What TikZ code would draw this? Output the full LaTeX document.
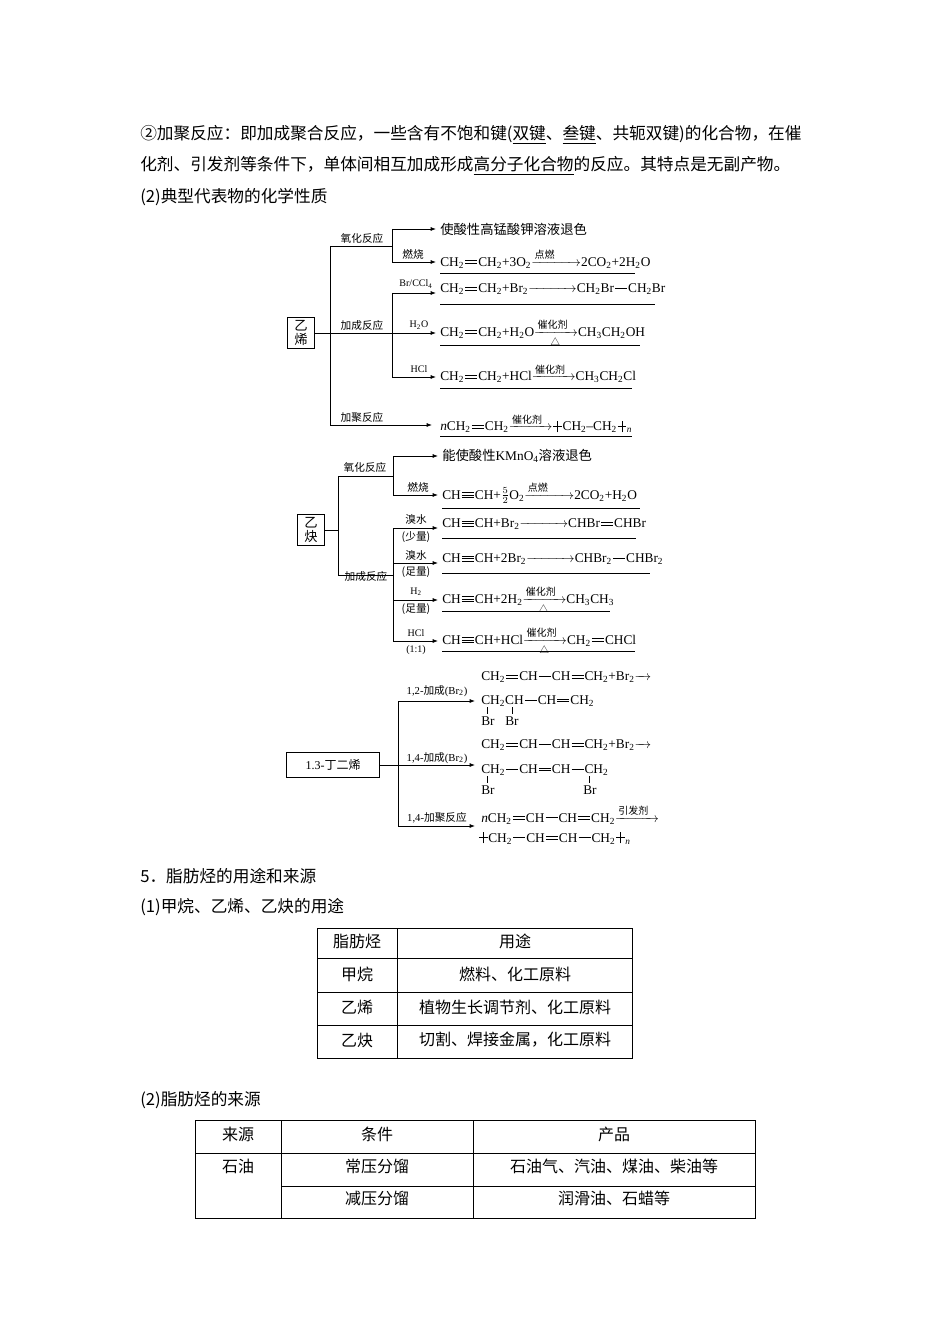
\documentclass[tikz,border=0pt]{standalone}
\usepackage{amsmath}
\usepackage{fontspec}
\setmainfont{Noto Sans CJK SC}
\newfontfamily\cjk{Noto Sans CJK SC}
\newfontfamily\lat{Liberation Serif}
\usetikzlibrary{arrows.meta}
\newcommand\db{\kern.08em\rlap{\rule[.18em]{.9em}{.05em}}\rule[.38em]{.9em}{.05em}\kern.08em}
\newcommand\tb{\kern.08em\rlap{\rule[.12em]{.9em}{.05em}}\rlap{\rule[.28em]{.9em}{.05em}}\rule[.44em]{.9em}{.05em}\kern.08em}
\newcommand\sbd{\kern.08em\rule[.3em]{.9em}{.05em}\kern.08em}
\newcommand\pb{\kern.05em\rule[.3em]{.3em}{.05em}\rule[-.1em]{.05em}{.85em}\rule[.3em]{.3em}{.05em}\kern.05em}
\newcommand\s[1]{\textsubscript{#1}}
\newcommand\ra[3][]{$\xrightarrow[\text{\cjk\fontsize{7}{7}\selectfont #1}]{\text{\cjk\fontsize{7.5}{8}\selectfont #2}\hspace{#3}}$}
\begin{document}
\begin{tikzpicture}[x=0.75pt,y=-0.75pt,
 body/.style={font=\fontsize{12.5}{14}\selectfont, anchor=west, inner sep=0},
 lbl/.style={font=\fontsize{8}{9}\selectfont, inner sep=0},
 eq/.style={font=\fontsize{10}{12}\selectfont\lat, anchor=west, inner sep=0},
 ln/.style={line width=0.6pt},
 arr/.style={line width=0.6pt,-{Latex[length=4pt,width=3pt]}},
 ul/.style={line width=0.5pt},
 bx/.style={draw,line width=0.7pt,font=\fontsize{10}{11}\selectfont,inner sep=2pt, align=center},
 tc/.style={font=\fontsize{12}{14}\selectfont, inner sep=0}]
\useasboundingbox (0,0) rectangle (950,1344);
% top text
\node[body] (t1) at (140,135) {②加聚反应：即加成聚合反应，一些含有不饱和键(\underline{双键}、\underline{叁键}、共轭双键)的化合物，在催};
\node[body] (t2) at (140,166) {化剂、引发剂等条件下，单体间相互加成形成\underline{高分子化合物}的反应。其特点是无副产物。};
\node[body] (t3) at (140,197) {(2)典型代表物的化学性质};
% ===== ethylene =====
\node[bx,minimum width=20pt] (e0) at (301,333) {乙\\烯};
\draw[ln] (e0.east) -- (392,333);
\draw[ln] (330,246) -- (330,425);
\draw[ln] (330,246) -- (392,246);
\draw[ln] (392,229) -- (392,262);
\draw[arr] (392,229) -- (436,229);
\draw[arr] (392,262) -- (436,262);
\node[lbl] (el1) at (362,238) {氧化反应};
\node[lbl] (el2) at (413,254) {燃烧};
\node[eq,font=\fontsize{10}{12}\selectfont] (ee1) at (440,229) {使酸性高锰酸钾溶液退色};
\node[eq] (ee2) at (440,262) {CH\s2\db CH\s2+3O\s2\ra{点燃}{16pt}2CO\s2+2H\s2O};
\draw[ul] (440,273) -- (635,273);
\draw[ln] (392,293) -- (392,377);
\draw[arr] (392,293) -- (436,293);
\draw[arr] (392,333) -- (436,333);
\draw[arr] (392,377) -- (436,377);
\node[lbl] (el3) at (362,325) {加成反应};
\node[lbl,font=\fontsize{7.5}{8}\selectfont\lat] (el4) at (416,284) {Br/CCl\s4};
\node[lbl,font=\fontsize{7.5}{8}\selectfont\lat] (el5) at (419,325) {H\s2O};
\node[lbl,font=\fontsize{7.5}{8}\selectfont\lat] (el6) at (419,369) {HCl};
\node[eq] (ee3) at (440,293) {CH\s2\db CH\s2+Br\s2\ra{}{30pt}CH\s2Br\sbd CH\s2Br};
\draw[ul] (440,304) -- (655,304);
\node[eq] (ee4) at (440,333) {CH\s2\db CH\s2+H\s2O\ra[△]{催化剂}{4pt}CH\s3CH\s2OH};
\draw[ul] (440,345) -- (640,345);
\node[eq] (ee5) at (440,377) {CH\s2\db CH\s2+HCl\ra{催化剂}{4pt}CH\s3CH\s2Cl};
\draw[ul] (440,388) -- (632,388);
\draw[arr] (330,425) -- (432,425);
\node[lbl] (el7) at (362,417) {加聚反应};
\node[eq] (ee6) at (440,427) {\textit{n}CH\s2\db CH\s2\ra{催化剂}{4pt}\pb CH\s2\textendash CH\s2\pb\s{\textit{n}}};
\draw[ul] (440,436) -- (632,436);
% ===== acetylene =====
\node[bx,minimum width=20pt] (a0) at (311,530) {乙\\炔};
\draw[ln] (a0.east) -- (338,530);
\draw[ln] (338,476) -- (338,575);
\draw[ln] (338,476) -- (393,476);
\draw[ln] (338,575) -- (393,575);
\draw[ln] (393,456) -- (393,495);
\draw[arr] (393,456) -- (438,456);
\draw[arr] (393,495) -- (438,495);
\node[lbl] (al1) at (365,467) {氧化反应};
\node[lbl] (al2) at (418,487) {燃烧};
\node[eq,font=\fontsize{10}{12}\selectfont] (ae1) at (442,456) {能使酸性{\lat KMnO\s4}溶液退色};
\node[eq] (ae2) at (442,495) {CH\tb CH+$\frac{5}{2}$O\s2\ra{点燃}{16pt}2CO\s2+H\s2O};
\draw[ul] (442,508) -- (640,508);
\node[lbl] (al3) at (366,576) {加成反应};
\draw[ln] (393,528) -- (393,641);
\foreach \yy in {528,563,600,641} \draw[arr] (393,\yy) -- (438,\yy);
\node[lbl] (a1a) at (416,519) {溴水};
\node[lbl] (a1b) at (416,537) {(少量)};
\node[lbl] (a2a) at (416,555) {溴水};
\node[lbl] (a2b) at (416,572) {(足量)};
\node[lbl,font=\fontsize{7.5}{8}\selectfont\lat] (a3a) at (416,592) {H\s2};
\node[lbl] (a3b) at (416,609) {(足量)};
\node[lbl,font=\fontsize{7.5}{8}\selectfont\lat] (a4a) at (416,633) {HCl};
\node[lbl,font=\fontsize{7.5}{8}\selectfont\lat] (a4b) at (416,650) {(1:1)};
\node[eq] (ae3) at (442,528) {CH\tb CH+Br\s2\ra{}{30pt}CHBr\db CHBr};
\draw[ul] (442,538) -- (636,538);
\node[eq] (ae4) at (442,563) {CH\tb CH+2Br\s2\ra{}{30pt}CHBr\s2\sbd CHBr\s2};
\draw[ul] (442,573) -- (650,573);
\node[eq] (ae5) at (442,600) {CH\tb CH+2H\s2\ra[△]{催化剂}{4pt}CH\s3CH\s3};
\draw[ul] (442,611) -- (610,611);
\node[eq] (ae6) at (442,641) {CH\tb CH+HCl\ra[△]{催化剂}{4pt}CH\s2\db CHCl};
\draw[ul] (442,651) -- (635,651);
% ===== butadiene =====
\node[draw,line width=0.7pt,font=\fontsize{9}{10}\selectfont,inner sep=2pt,minimum width=70pt,minimum height=19pt] (b0) at (333,765) {{\lat 1.3-}丁二烯};
\draw[ln] (b0.east) -- (398,765);
\draw[ln] (398,701) -- (398,826);
\foreach \yy in {701,765,826} \draw[arr] (398,\yy) -- (475,\yy);
\node[lbl] (bl1) at (437,691) {{\lat 1,2-}加成{\lat(Br\s2)}};
\node[lbl] (bl2) at (437,758) {{\lat 1,4-}加成{\lat(Br\s2)}};
\node[lbl] (bl3) at (437,818) {{\lat 1,4-}加聚反应};
\node[eq] (bf1) at (481,681) {CH\s2\db CH\sbd CH\db CH\s2+Br\s2\ra{}{6pt}};
\node[eq] (bf2) at (481,701) {CH\s2CH\sbd CH\db CH\s2};
\draw[ul] (487,707) -- (487,714);
\draw[ul] (512,707) -- (512,714);
\node[eq] (bb1) at (481,721) {Br};
\node[eq] (bb2) at (505,721) {Br};
\node[eq] (bf3) at (481,749) {CH\s2\db CH\sbd CH\db CH\s2+Br\s2\ra{}{6pt}};
\node[eq] (bf4) at (481,770) {CH\s2\sbd CH\db CH\sbd CH\s2};
\draw[ul] (487,776) -- (487,783);
\draw[ul] (589,776) -- (589,783);
\node[eq] (bb3) at (481,790) {Br};
\node[eq] (bb4) at (583,790) {Br};
\node[eq] (bf5) at (481,818) {\textit{n}CH\s2\db CH\sbd CH\db CH\s2\ra{引发剂}{4pt}};
\node[eq] (bf6) at (478,838) {\pb CH\s2\sbd CH\db CH\sbd CH\s2\pb\s{\textit{n}}};
% ===== section 5 =====
\node[body] (s5) at (140,876) {5．脂肪烃的用途和来源};
\node[body] (s51) at (140,907) {(1)甲烷、乙烯、乙炔的用途};
\draw[line width=0.7pt] (317,928) rectangle (632,1058);
\foreach \yy in {958,992,1025} \draw[line width=0.7pt] (317,\yy) -- (632,\yy);
\draw[line width=0.7pt] (397,928) -- (397,1058);
\node[tc] (c11) at (357,941) {脂肪烃};
\node[tc] (c12) at (515,941) {用途};
\node[tc] (c21) at (357,974) {甲烷};
\node[tc] (c22) at (515,974) {燃料、化工原料};
\node[tc] (c31) at (357,1007) {乙烯};
\node[tc] (c32) at (515,1007) {植物生长调节剂、化工原料};
\node[tc] (c41) at (357,1040) {乙炔};
\node[tc] (c42) at (515,1040) {切割、焊接金属，化工原料};
\node[body] (s52) at (140,1100) {(2)脂肪烃的来源};
\draw[line width=0.7pt] (195,1120) rectangle (755,1218);
\draw[line width=0.7pt] (195,1153) -- (755,1153);
\draw[line width=0.7pt] (281,1186) -- (755,1186);
\draw[line width=0.7pt] (281,1120) -- (281,1218);
\draw[line width=0.7pt] (473,1120) -- (473,1218);
\node[tc] (d11) at (238,1134) {来源};
\node[tc] (d12) at (377,1134) {条件};
\node[tc] (d13) at (614,1134) {产品};
\node[tc] (d21) at (238,1166) {石油};
\node[tc] (d22) at (377,1166) {常压分馏};
\node[tc] (d23) at (614,1166) {石油气、汽油、煤油、柴油等};
\node[tc] (d32) at (377,1198) {减压分馏};
\node[tc] (d33) at (614,1198) {润滑油、石蜡等};
\end{tikzpicture}
\end{document}
